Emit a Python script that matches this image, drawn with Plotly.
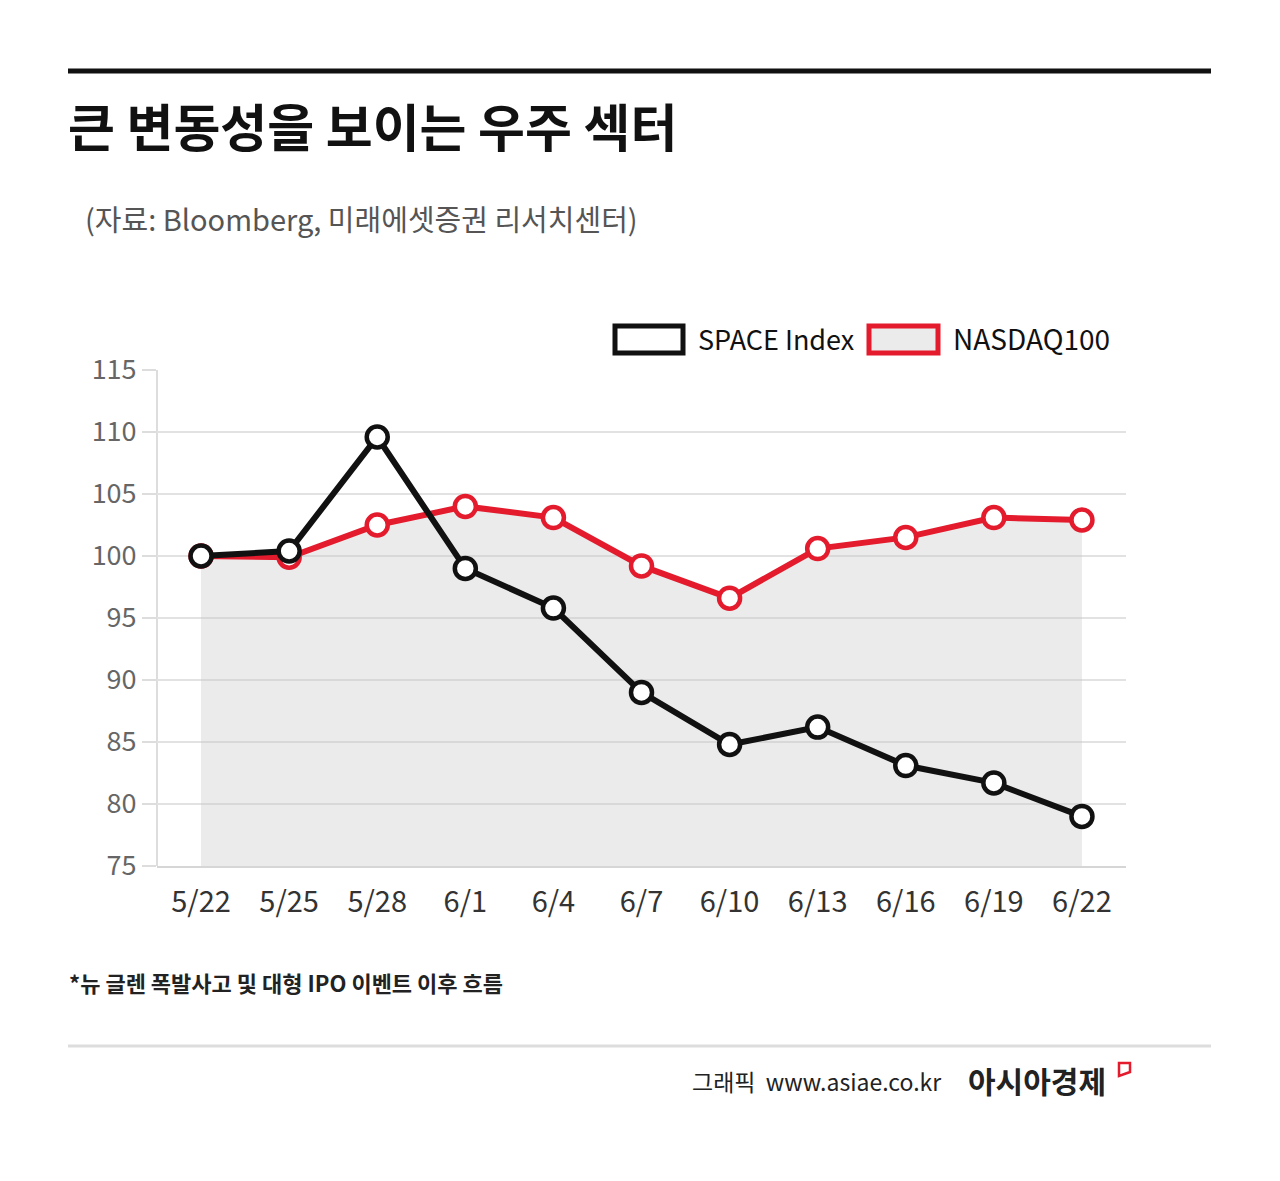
import plotly.graph_objects as go

dates = ["5/22", "5/25", "5/28", "6/1", "6/4", "6/7", "6/10", "6/13", "6/16", "6/19", "6/22"]
space_index = [100.0, 100.4, 109.6, 99.0, 95.8, 89.0, 84.8, 86.2, 83.1, 81.7, 79.0]
nasdaq100 = [100.0, 99.9, 102.5, 104.0, 103.1, 99.2, 96.6, 100.6, 101.5, 103.1, 102.9]
y_ticks = [75, 80, 85, 90, 95, 100, 105, 110, 115]

W, H = 1280, 1181
L, R, T, B = 157, 1126, 370, 866
FONT = "Noto Sans CJK KR"

def fx(px):
    return (px - L) / (R - L)

def fy(py):
    return (B - py) / (B - T)

xs = list(range(len(dates)))
fig = go.Figure()

fig.add_trace(go.Scatter(x=xs, y=nasdaq100, mode="none", fill="tozeroy",
                         fillcolor="rgba(200,200,200,0.36)", hoverinfo="skip", showlegend=False))
fig.add_trace(go.Scatter(x=xs, y=nasdaq100, mode="lines+markers", name="NASDAQ100",
                         line=dict(color="#e31b2d", width=6),
                         marker=dict(size=21, color="white", line=dict(color="#e31b2d", width=4.5)),
                         showlegend=False))
fig.add_trace(go.Scatter(x=xs, y=space_index, mode="lines+markers", name="SPACE Index",
                         line=dict(color="#111111", width=6),
                         marker=dict(size=21, color="white", line=dict(color="#111111", width=4.5)),
                         showlegend=False))

shapes = []
annotations = []

# top bar
shapes.append(dict(type="line", xref="paper", yref="paper", x0=fx(68), x1=fx(1211), y0=fy(71), y1=fy(71),
                   line=dict(color="#111111", width=5)))
# bottom separator
shapes.append(dict(type="line", xref="paper", yref="paper", x0=fx(68), x1=fx(1211), y0=fy(1046), y1=fy(1046),
                   line=dict(color="#dddddd", width=3)))
# y axis line
shapes.append(dict(type="line", xref="paper", yref="paper", x0=0, x1=0, y0=0, y1=1,
                   line=dict(color="#dddddd", width=2), layer="below"))
# legend boxes
shapes.append(dict(type="rect", xref="paper", yref="paper", x0=fx(615), x1=fx(683), y0=fy(326), y1=fy(353),
                   line=dict(color="#111111", width=5), fillcolor="white"))
shapes.append(dict(type="rect", xref="paper", yref="paper", x0=fx(869), x1=fx(938), y0=fy(326), y1=fy(353),
                   line=dict(color="#e31b2d", width=5), fillcolor="#ebebeb"))
# logo icon
shapes.append(dict(type="path", xref="paper", yref="paper",
                   path=f"M {fx(1119)} {fy(1063)} L {fx(1119)} {fy(1076)} L {fx(1130)} {fy(1072)} L {fx(1130)} {fy(1063)} Z",
                   line=dict(color="#e31b2d", width=2.5), fillcolor="white"))

annotations.append(dict(text="<b>큰 변동성을 보이는 우주 섹터</b>", xref="paper", yref="paper",
                        x=fx(66), y=fy(125), xanchor="left", yanchor="middle", showarrow=False,
                        font=dict(family=FONT, size=51, color="#111111")))
annotations.append(dict(text="(자료: Bloomberg, 미래에셋증권 리서치센터)", xref="paper", yref="paper",
                        x=fx(83), y=fy(218), xanchor="left", yanchor="middle", showarrow=False,
                        font=dict(family=FONT, size=29, color="#555555")))
annotations.append(dict(text="SPACE Index", xref="paper", yref="paper",
                        x=fx(696), y=fy(338), xanchor="left", yanchor="middle", showarrow=False,
                        font=dict(family=FONT, size=27, color="#111111")))
annotations.append(dict(text="NASDAQ100", xref="paper", yref="paper",
                        x=fx(951), y=fy(338), xanchor="left", yanchor="middle", showarrow=False,
                        font=dict(family=FONT, size=28, color="#111111")))
annotations.append(dict(text="<b>*뉴 글렌 폭발사고 및 대형 IPO 이벤트 이후 흐름</b>", xref="paper", yref="paper",
                        x=fx(67), y=fy(982), xanchor="left", yanchor="middle", showarrow=False,
                        font=dict(family=FONT, size=22, color="#222222")))
annotations.append(dict(text="그래픽  www.asiae.co.kr", xref="paper", yref="paper",
                        x=fx(943), y=fy(1081), xanchor="right", yanchor="middle", showarrow=False,
                        font=dict(family=FONT, size=23, color="#222222")))
annotations.append(dict(text="<b>아시아경제</b>", xref="paper", yref="paper",
                        x=fx(966), y=fy(1080), xanchor="left", yanchor="middle", showarrow=False,
                        font=dict(family=FONT, size=30, color="#222222")))

fig.update_layout(
    width=W, height=H,
    margin=dict(l=L, r=W - R, t=T, b=H - B, pad=0),
    paper_bgcolor="white", plot_bgcolor="white",
    shapes=shapes, annotations=annotations,
    showlegend=False,
    xaxis=dict(tickmode="array", tickvals=xs, ticktext=dates, range=[-0.5, len(dates) - 0.5],
               showgrid=False, zeroline=False, showline=True, linecolor="#d6d6d6", linewidth=2,
               ticks="", ticklabelstandoff=9,
               tickfont=dict(family=FONT, size=29, color="#333333"), fixedrange=True),
    yaxis=dict(tickmode="array", tickvals=y_ticks, range=[75, 115],
               showgrid=True, gridcolor="#e2e2e2", gridwidth=2, zeroline=False, showline=False,
               ticks="outside", ticklen=14, tickcolor="#dddddd", tickwidth=2,
               tickfont=dict(family=FONT, size=27, color="#666666"), fixedrange=True),
)

fig.write_html("out.html")
